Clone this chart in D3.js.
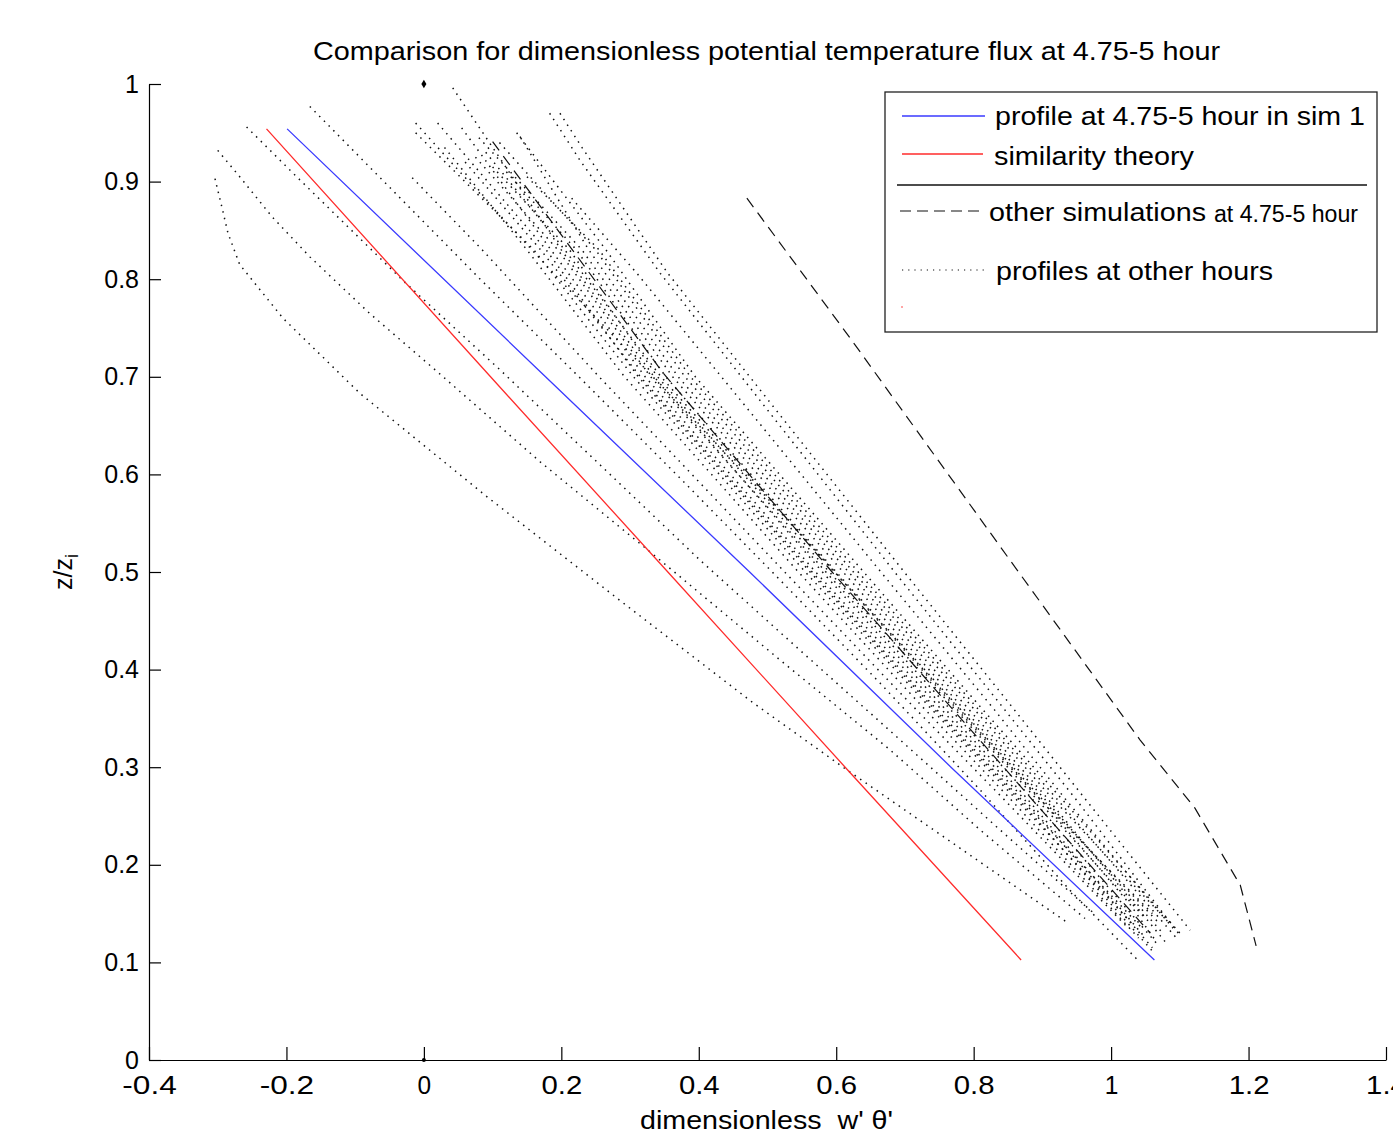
<!DOCTYPE html>
<html lang="en">
<head>
<meta charset="UTF-8">
<title>Comparison for dimensionless potential temperature flux</title>
<script src="https://cdn.jsdelivr.net/npm/d3@7"></script>
<style>
    body { margin: 0; background: #fff; }
    svg { display: block; font-family: "Liberation Sans", Arial, sans-serif; }
    .axis path, .axis line { fill: none; stroke: #000; stroke-width: 1.2; }
    .axis text { font-size: 25px; fill: #000; font-family: "Liberation Sans", Arial, sans-serif; }
</style>
</head>
<body>
<script>
// ---- data (x = dimensionless w'theta', z = z/zi) ----
const xTicks = [-0.4, -0.2, 0, 0.2, 0.4, 0.6, 0.8, 1, 1.2, 1.4];
const yTicks = [0, 0.1, 0.2, 0.3, 0.4, 0.5, 0.6, 0.7, 0.8, 0.9, 1];

// blue: profile at 4.75-5 hour in sim 1
const simProfile = [[1.063, 0.1025], [0.767, 0.30], [0.474, 0.50], [0.177, 0.70], [-0.199, 0.954]];
// red: similarity theory
const similarityTheory = [[0.869, 0.1025], [0.613, 0.30], [0.355, 0.50], [0.097, 0.70], [-0.229, 0.954]];
// dashed: other simulations at 4.75-5 hour
const otherSimA = [[0.470, 0.883], [0.622, 0.738], [0.853, 0.512], [1.042, 0.328], [1.122, 0.258], [1.188, 0.179], [1.211, 0.117]];
const otherSimB = [[0.100, 0.941], [0.348, 0.704], [0.594, 0.500], [0.770, 0.359], [0.886, 0.266], [1.057, 0.130]];

// dotted: profiles at other hours
const hourProfiles = [
    [[-0.304, 0.903], [-0.294, 0.874], [-0.285, 0.847], [-0.268, 0.815], [-0.205, 0.760], [-0.093, 0.683], [0.092, 0.577], [0.285, 0.471], [0.479, 0.366], [0.616, 0.297], [0.770, 0.222], [0.936, 0.141]],
    [[-0.300, 0.932], [-0.268, 0.905], [-0.221, 0.864], [-0.166, 0.823], [-0.079, 0.765], [0.028, 0.700], [0.169, 0.613], [0.344, 0.512], [0.518, 0.410], [0.678, 0.318], [0.809, 0.236], [0.962, 0.145]],
    [[-0.258, 0.956], [-0.191, 0.909], [-0.031, 0.799], [0.111, 0.707], [0.256, 0.610], [0.402, 0.512], [0.547, 0.420], [0.693, 0.328], [0.838, 0.236], [0.977, 0.149]],
    [[-0.166, 0.977], [0.082, 0.800], [0.227, 0.699], [0.373, 0.596], [0.518, 0.492], [0.664, 0.386], [0.809, 0.277], [0.940, 0.174], [1.042, 0.100]],
    [[-0.012, 0.960], [0.051, 0.911], [0.198, 0.799], [0.344, 0.692], [0.489, 0.584], [0.635, 0.471], [0.780, 0.359], [0.911, 0.256], [1.028, 0.159], [1.064, 0.123]],
    [[0.042, 0.996], [0.200, 0.83], [0.335, 0.70], [0.580, 0.50], [0.758, 0.36], [0.875, 0.27], [1.050, 0.125]],
    [[-0.012, 0.950], [0.160, 0.83], [0.305, 0.70], [0.555, 0.50], [0.738, 0.36], [0.858, 0.27], [1.030, 0.140]],
    [[-0.017, 0.904], [0.085, 0.83], [0.255, 0.70], [0.525, 0.50], [0.715, 0.36], [0.840, 0.27], [1.025, 0.135]],
    [[0.080, 0.945], [0.230, 0.83], [0.362, 0.70], [0.610, 0.50], [0.785, 0.36], [0.900, 0.27], [1.075, 0.130]],
    [[0.055, 0.955], [0.185, 0.83], [0.322, 0.70], [0.570, 0.50], [0.752, 0.36], [0.870, 0.27], [1.060, 0.115]],
    [[0.110, 0.940], [0.250, 0.83], [0.380, 0.70], [0.625, 0.50], [0.800, 0.36], [0.912, 0.27], [1.085, 0.140]],
    [[0.090, 0.930], [0.205, 0.83], [0.345, 0.70], [0.598, 0.50], [0.775, 0.36], [0.892, 0.27], [1.060, 0.150]],
    [[0.135, 0.950], [0.265, 0.83], [0.395, 0.70], [0.640, 0.50], [0.812, 0.36], [0.925, 0.27], [1.100, 0.130]],
    [[0.140, 0.946], [0.240, 0.83], [0.370, 0.70], [0.618, 0.50], [0.792, 0.36], [0.905, 0.27], [1.080, 0.120]],
    [[0.060, 0.920], [0.170, 0.83], [0.315, 0.70], [0.565, 0.50], [0.745, 0.36], [0.865, 0.27], [1.045, 0.135]],
    [[0.030, 0.935], [0.150, 0.83], [0.292, 0.70], [0.545, 0.50], [0.728, 0.36], [0.850, 0.27], [1.040, 0.125]],
    [[0.120, 0.910], [0.222, 0.83], [0.352, 0.70], [0.600, 0.50], [0.780, 0.36], [0.896, 0.27], [1.070, 0.140]],
    [[0.075, 0.925], [0.195, 0.83], [0.330, 0.70], [0.585, 0.50], [0.765, 0.36], [0.882, 0.27], [1.068, 0.118]],
    [[0.100, 0.915], [0.212, 0.83], [0.340, 0.70], [0.590, 0.50], [0.772, 0.36], [0.888, 0.27], [1.050, 0.145]],
    [[0.020, 0.960], [0.178, 0.83], [0.312, 0.70], [0.562, 0.50], [0.742, 0.36], [0.862, 0.27], [1.062, 0.110]],
    [[0.150, 0.905], [0.255, 0.83], [0.388, 0.70], [0.632, 0.50], [0.806, 0.36], [0.918, 0.27], [1.095, 0.125]],
    [[0.198, 0.970], [0.230, 0.935], [0.355, 0.806], [0.699, 0.50], [0.859, 0.359], [0.964, 0.266], [1.115, 0.133]],
    [[0.183, 0.970], [0.227, 0.922], [0.344, 0.806], [0.685, 0.50], [0.845, 0.359], [0.950, 0.266], [1.100, 0.128]],
    [[0.215, 0.883], [0.310, 0.806], [0.665, 0.50], [0.830, 0.359], [0.935, 0.266], [1.090, 0.135]]
];

const markerPoints = [[0, 1], [0, 0]];

const titleText = "Comparison for dimensionless potential temperature flux at 4.75-5 hour";
const xLabelText = "dimensionless  w' \u03b8'";
const legendLabels = ["profile at 4.75-5 hour in sim 1", "similarity theory", "other simulations", "at 4.75-5 hour", "profiles at other hours"];

// ---- layout ----
const W = 1393, H = 1134;
const svg = d3.select("body").append("svg").attr("width", W).attr("height", H);

const x = d3.scaleLinear().domain([-0.4, 1.4]).range([149, 1386]);
const y = d3.scaleLinear().domain([0, 1]).range([1060, 84]);

const line = d3.line().x(d => x(d[0])).y(d => y(d[1]));

// dotted profiles
svg.append("g").selectAll("path")
    .data(hourProfiles)
    .enter()
    .append("path")
    .attr("d", line)
    .attr("fill", "none")
    .attr("stroke", "#111")
    .attr("stroke-width", 1.5)
    .attr("stroke-dasharray", "1.5 5.2");

// dashed other simulations
svg.append("g").selectAll("path")
    .data([otherSimA, otherSimB])
    .enter()
    .append("path")
    .attr("d", line)
    .attr("fill", "none")
    .attr("stroke", "#111")
    .attr("stroke-width", 1.2)
    .attr("stroke-dasharray", "11 7");

svg.append("path").datum(similarityTheory)
    .attr("d", line).attr("fill", "none")
    .attr("stroke", "#ff2b2b").attr("stroke-width", 1.3);

svg.append("path").datum(simProfile)
    .attr("d", line).attr("fill", "none")
    .attr("stroke", "#3a3aff").attr("stroke-width", 1.3);

svg.append("path")
    .datum(markerPoints[0])
    .attr("transform", d => "translate(" + x(d[0]) + "," + y(d[1]) + ")")
    .attr("d", d3.symbol(d3.symbolDiamond, 22))
    .attr("fill", "#000");
svg.append("circle")
    .datum(markerPoints[1])
    .attr("cx", d => x(d[0])).attr("cy", d => y(d[1]))
    .attr("r", 2).attr("fill", "#000");

// axes (hyphen minus like the original)
const fmt = d => String(+d.toFixed(1));
const xAxis = d3.axisBottom(x).tickValues(xTicks).tickSizeInner(-13).tickSizeOuter(0).tickPadding(16).tickFormat(fmt);
const yAxis = d3.axisLeft(y).tickValues(yTicks).tickSizeInner(-12).tickSizeOuter(0).tickPadding(10).tickFormat(fmt);

const gx = svg.append("g").attr("class", "axis")
    .attr("transform", "translate(0," + y(0) + ")")
    .call(xAxis);
gx.attr("font-size", null).attr("font-family", null);
gx.selectAll("text").attr("textLength", d => fmt(d).length * 13.6).attr("lengthAdjust", "spacingAndGlyphs");

const gy = svg.append("g").attr("class", "axis")
    .attr("transform", "translate(" + x(-0.4) + ",0)")
    .call(yAxis);
gy.attr("font-size", null).attr("font-family", null);

// title and axis labels
svg.append("text")
    .attr("x", 313).attr("y", 60)
    .attr("font-size", 25)
    .attr("textLength", 907).attr("lengthAdjust", "spacingAndGlyphs")
    .text(titleText);

svg.append("text")
    .attr("x", 640).attr("y", 1129)
    .attr("font-size", 25)
    .attr("textLength", 253).attr("lengthAdjust", "spacingAndGlyphs")
    .style("white-space", "pre")
    .text(xLabelText);

const yl = svg.append("text")
    .attr("transform", "translate(72,572) rotate(-90)")
    .attr("text-anchor", "middle")
    .attr("font-size", 25);
yl.append("tspan").text("z/z");
yl.append("tspan").attr("font-size", 18).attr("dy", 6).text("i");

// legend
const lg = svg.append("g");
lg.append("rect")
    .attr("x", 885).attr("y", 92).attr("width", 492).attr("height", 240)
    .attr("fill", "#fff").attr("stroke", "#222").attr("stroke-width", 1.3);

lg.append("line").attr("x1", 902).attr("x2", 985).attr("y1", 116).attr("y2", 116)
    .attr("stroke", "#3a3aff").attr("stroke-width", 1.3);
lg.append("text").attr("x", 995).attr("y", 125).attr("font-size", 25)
    .attr("textLength", 370).attr("lengthAdjust", "spacingAndGlyphs").text(legendLabels[0]);

lg.append("line").attr("x1", 902).attr("x2", 983).attr("y1", 154).attr("y2", 154)
    .attr("stroke", "#ff2b2b").attr("stroke-width", 1.3);
lg.append("text").attr("x", 994).attr("y", 165).attr("font-size", 25)
    .attr("textLength", 200).attr("lengthAdjust", "spacingAndGlyphs").text(legendLabels[1]);

lg.append("line").attr("x1", 897).attr("x2", 1367).attr("y1", 185).attr("y2", 185)
    .attr("stroke", "#111").attr("stroke-width", 1.3);

lg.append("line").attr("x1", 900).attr("x2", 980).attr("y1", 211).attr("y2", 211)
    .attr("stroke", "#111").attr("stroke-width", 1.2).attr("stroke-dasharray", "11 6");
lg.append("text").attr("x", 989).attr("y", 221).attr("font-size", 25)
    .attr("textLength", 217).attr("lengthAdjust", "spacingAndGlyphs").text(legendLabels[2]);
lg.append("text").attr("x", 1214).attr("y", 222).attr("font-size", 23)
    .attr("textLength", 144).attr("lengthAdjust", "spacingAndGlyphs").text(legendLabels[3]);

lg.append("line").attr("x1", 902).attr("x2", 985).attr("y1", 270).attr("y2", 270)
    .attr("stroke", "#111").attr("stroke-width", 1.2).attr("stroke-dasharray", "1.2 5");
lg.append("text").attr("x", 996).attr("y", 280).attr("font-size", 25)
    .attr("textLength", 277).attr("lengthAdjust", "spacingAndGlyphs").text(legendLabels[4]);
lg.append("circle").attr("cx", 902).attr("cy", 307).attr("r", 0.8).attr("fill", "#f33");
</script>
</body>
</html>
